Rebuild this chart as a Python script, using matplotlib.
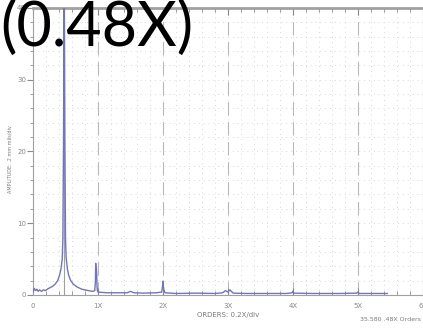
import matplotlib
matplotlib.use("Agg")
import matplotlib.pyplot as plt
from matplotlib.ticker import MultipleLocator

# spectrum (orders, amplitude)
orders = [0.00, 0.02, 0.04, 0.06, 0.08, 0.10, 0.13, 0.16, 0.19, 0.22, 0.26,
          0.30, 0.34, 0.38, 0.41, 0.43, 0.45, 0.46, 0.47, 0.475, 0.48, 0.485,
          0.49, 0.50, 0.51, 0.53, 0.55, 0.58, 0.62, 0.68, 0.75, 0.85, 0.92,
          0.95, 0.96, 0.965, 0.97, 0.975, 0.98, 0.985, 0.99, 1.00, 1.05, 1.15,
          1.30, 1.45, 1.50, 1.55, 1.70, 1.90, 1.98, 1.99, 2.00, 2.01, 2.03,
          2.20, 2.50, 2.80, 2.92, 2.96, 3.00, 3.03, 3.08, 3.30, 3.60, 3.90,
          3.99, 4.00, 4.01, 4.30, 4.70, 4.98, 5.00, 5.02, 5.30, 5.45]
amplitude = [0.4, 0.9, 0.6, 0.8, 0.5, 0.7, 0.5, 0.7, 0.6, 0.8, 1.0,
             1.2, 1.5, 2.0, 2.8, 3.6, 5.0, 8.0, 22.0, 35.0, 45.0, 35.0,
             22.0, 8.0, 5.2, 3.6, 2.7, 2.0, 1.5, 1.1, 0.8, 0.6, 0.5,
             0.6, 1.8, 4.4, 2.6, 3.8, 3.0, 1.2, 0.6, 0.4, 0.35, 0.3,
             0.3, 0.3, 0.5, 0.3, 0.25, 0.3, 0.4, 1.0, 1.9, 0.8, 0.3,
             0.2, 0.25, 0.2, 0.3, 0.6, 0.4, 0.7, 0.25, 0.2, 0.2, 0.2,
             0.3, 0.5, 0.25, 0.2, 0.2, 0.25, 0.4, 0.2, 0.2, 0.2]

peak_order = 0.48
harmonics = [1, 2, 3, 4, 5]
tick_pos = [0, 1, 2, 3, 4, 5, 6]
tick_labels = ["0", "1X", "2X", "3X", "4X", "5X", "6X"]
y_ticks = [0, 10, 20, 30, 40]

fig = plt.figure(figsize=(4.23, 3.31), dpi=100)
ax = fig.add_axes([0.078, 0.109, 0.922, 0.867])
ax.set_xlim(0, 6)
ax.set_ylim(0, 40)

# faint dotted grid
for gx in [i * 0.2 for i in range(1, 30)]:
    ax.axvline(gx, color="#d8d8d8", lw=0.7, ls=(0, (1, 4)), zorder=0)
for gy in range(2, 40, 2):
    ax.axhline(gy, color="#d8d8d8", lw=0.7, ls=(0, (1, 4)), zorder=0)

# dashed lines at each harmonic
for h in harmonics:
    ax.axvline(h, color="#b8b8b8", lw=0.8, ls=(0, (12, 6)), zorder=1)

# cursor at the peak
ax.axvline(peak_order, color="#a0a0a0", lw=0.8, zorder=1)

ax.plot(orders, amplitude, color="#7474b8", lw=1.0, zorder=3)

# ticks
ax.set_xticks(tick_pos)
ax.set_xticklabels(tick_labels)
ax.xaxis.set_minor_locator(MultipleLocator(0.2))
ax.set_yticks(y_ticks)
ax.yaxis.set_minor_locator(MultipleLocator(2))
ax.tick_params(axis="x", which="both", direction="in", top=True,
               colors="#8a8a8a", labelsize=5, pad=6)
ax.tick_params(axis="x", which="major", length=5)
ax.tick_params(axis="x", which="minor", length=3)
ax.tick_params(axis="y", which="both", direction="out", right=True,
               colors="#8a8a8a", labelsize=5, pad=1)
ax.tick_params(axis="y", which="major", length=4)
ax.tick_params(axis="y", which="minor", length=2)

for s in ["left", "right", "bottom"]:
    ax.spines[s].set_color("#a0a0a0")
    ax.spines[s].set_linewidth(0.8)
ax.spines["top"].set_color("#a0a0a0")
ax.spines["top"].set_linewidth(2)

ax.set_xlabel("ORDERS: 0.2X/div", fontsize=5, color="#7a7a7a", labelpad=2)
fig.text(0.024, 0.52, "AMPLITUDE: .2 mm mils/div", rotation=90,
         fontsize=3.5, color="#7a7a7a", ha="center", va="center")
fig.text(0.995, 0.035, "35.580 .48X Orders", fontsize=4.5,
         color="#7a7a7a", ha="right", va="center")

# big annotation
fig.text(0.0, 1.0, "(0.48X)", fontsize=44, family="Lato",
         color="black", ha="left", va="top")

fig.savefig("out.png", dpi=100)
